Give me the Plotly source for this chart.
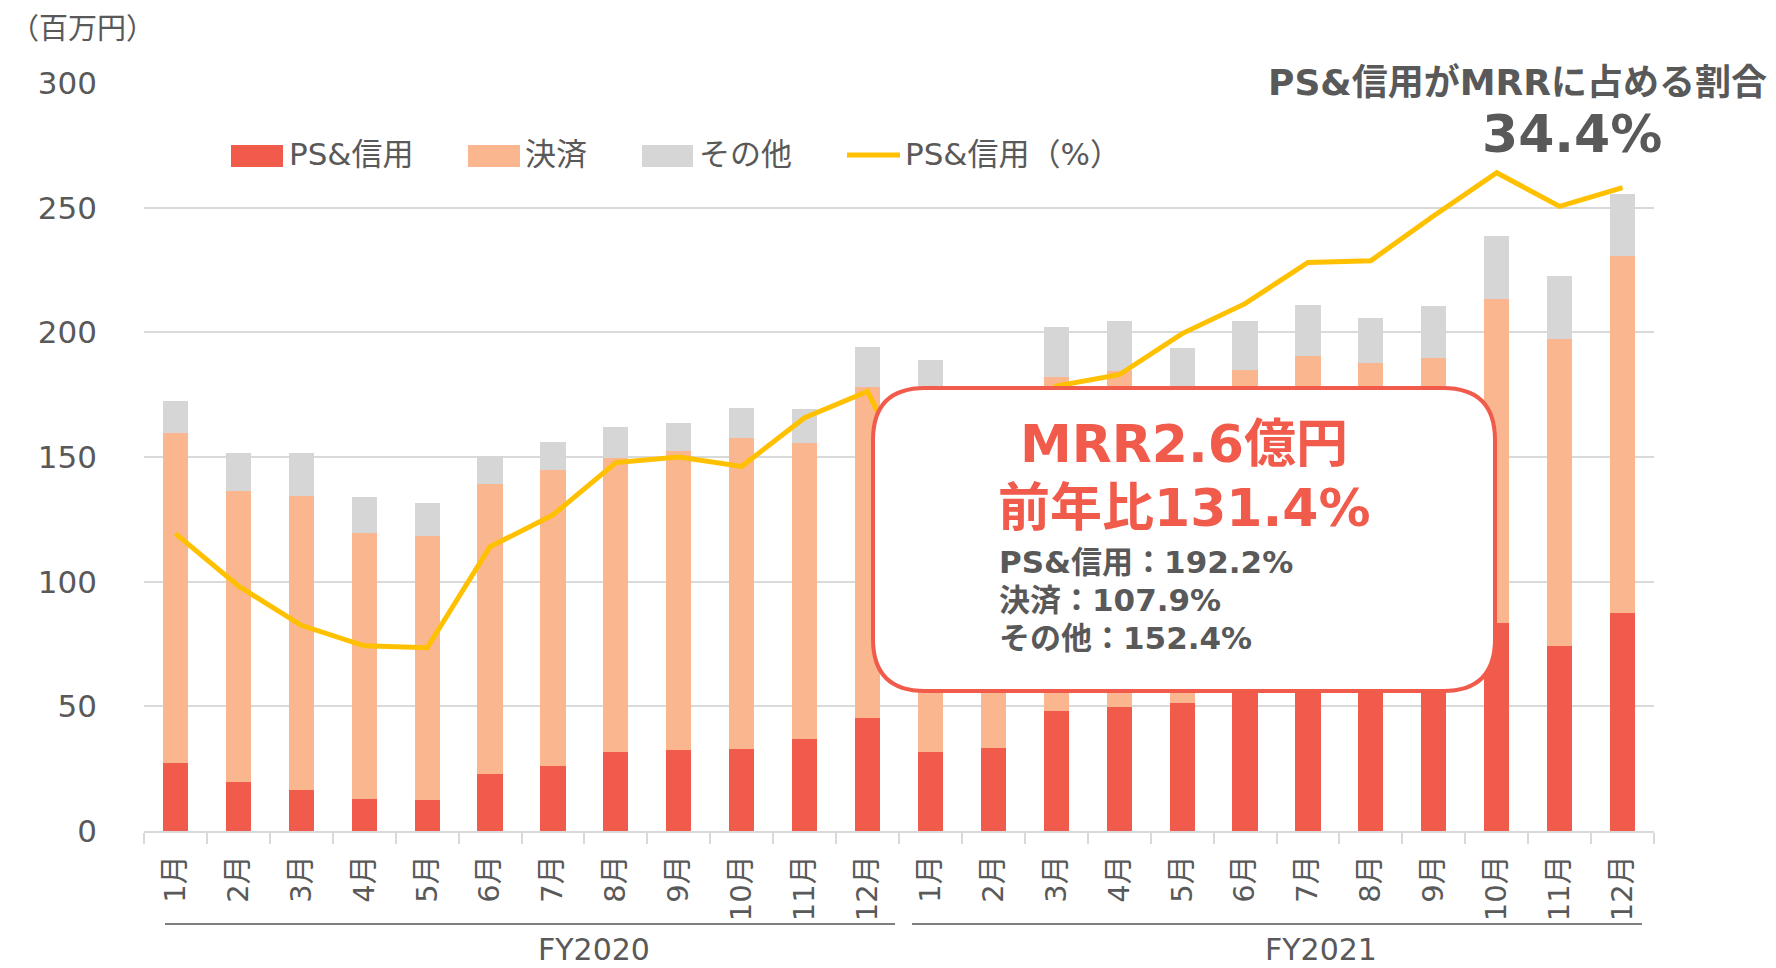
import plotly.graph_objects as go

# ---------------- data ----------------
months = ["1月", "2月", "3月", "4月", "5月", "6月", "7月", "8月", "9月", "10月", "11月", "12月"]
years = ["FY2020", "FY2021"]

ps_fy2020 = [27.1, 19.8, 16.6, 13.0, 12.6, 22.7, 26.1, 31.7, 32.5, 32.9, 37.0, 45.3]
kessai_fy2020 = [132.6, 116.6, 117.9, 106.6, 105.8, 116.4, 118.6, 118.0, 119.9, 124.7, 118.6, 132.7]
other_fy2020 = [12.7, 15.3, 17.3, 14.3, 13.1, 11.3, 11.3, 12.3, 11.2, 11.9, 13.6, 16.2]
ratio_fy2020 = [15.9, 13.1, 11.0, 9.9, 9.8, 15.2, 16.9, 19.7, 20.0, 19.5, 22.1, 23.5]

ps_fy2021 = [31.8, 33.4, 48.2, 49.8, 51.4, 57.6, 64.0, 62.6, 68.9, 83.5, 74.2, 87.5]
kessai_fy2021 = [142.2, 126.6, 134.0, 134.8, 124.6, 127.2, 126.6, 125.2, 120.9, 129.8, 123.1, 143.0]
other_fy2021 = [15.1, 16.0, 20.0, 19.9, 17.7, 19.7, 20.3, 18.1, 20.8, 25.4, 25.1, 24.9]
ratio_fy2021 = [16.8, 19.0, 23.8, 24.4, 26.6, 28.2, 30.4, 30.5, 32.9, 35.2, 33.4, 34.4]

series_names = ["PS&信用", "決済", "その他", "PS&信用（%）"]
y_ticks = [0, 50, 100, 150, 200, 250, 300]
unit_label = "（百万円）"
share_title = "PS&信用がMRRに占める割合"
share_value = "34.4%"
box_lines_big = ["MRR2.6億円", "前年比131.4%"]
box_lines_small = ["PS&信用：192.2%", "決済：107.9%", "その他：152.4%"]

categories = [f"{y} {m}" for y in years for m in months]
tick_text = months + months
ps = ps_fy2020 + ps_fy2021
kessai = kessai_fy2020 + kessai_fy2021
other = other_fy2020 + other_fy2021
ratio = ratio_fy2020 + ratio_fy2021

# ---------------- styles ----------------
C_PS = "#F15B4C"
C_KS = "#FAB68F"
C_OT = "#D6D6D6"
C_LINE = "#FFC000"
C_TEXT = "#595959"
C_GRID = "#D9D9D9"
FONT = "DejaVu Sans, Noto Sans CJK JP, sans-serif"

OFF = 8  # page body margin
W, H = 1776 - OFF, 968 - OFF
L, R, T, B = 144, 1654, 83, 831  # plot area in page pixels


def X(px):
    return (px - L) / (R - L)


def Y(py):
    return (B - py) / (B - T)


fig = go.Figure()
fig.add_trace(go.Bar(x=categories, y=ps, name=series_names[0], marker=dict(color=C_PS, line=dict(width=0))))
fig.add_trace(go.Bar(x=categories, y=kessai, name=series_names[1], marker=dict(color=C_KS, line=dict(width=0))))
fig.add_trace(go.Bar(x=categories, y=other, name=series_names[2], marker=dict(color=C_OT, line=dict(width=0))))
fig.add_trace(go.Scatter(x=categories, y=ratio, name=series_names[3], mode="lines",
                         line=dict(color=C_LINE, width=5), yaxis="y2"))

shapes = []
annotations = []

# manual legend
legend_items = [
    ("bar", C_PS, 231, 283, 287, series_names[0]),
    ("bar", C_KS, 468, 520, 523, series_names[1]),
    ("bar", C_OT, 642, 693, 697, series_names[2]),
    ("line", C_LINE, 847, 900, 903, series_names[3]),
]
for kind, col, x0, x1, tx, label in legend_items:
    if kind == "bar":
        shapes.append(dict(type="rect", xref="paper", yref="paper", x0=X(x0), x1=X(x1), y0=Y(167), y1=Y(145),
                           fillcolor=col, line=dict(width=0), layer="above"))
    else:
        shapes.append(dict(type="line", xref="paper", yref="paper", x0=X(x0), x1=X(x1), y0=Y(155), y1=Y(155),
                           line=dict(color=col, width=5), layer="above"))
    annotations.append(dict(text=label, xref="paper", yref="paper", x=X(tx), y=Y(154), xanchor="left",
                            yanchor="middle", showarrow=False, font=dict(family=FONT, size=31, color=C_TEXT)))

# callout box (rounded rectangle)
bx0, bx1, byt, byb = X(873), X(1495), Y(388), Y(691)
rx, ry = 52 / (R - L), 52 / (B - T)
path = (f"M {bx0+rx},{byt} L {bx1-rx},{byt} Q {bx1},{byt} {bx1},{byt-ry} "
        f"L {bx1},{byb+ry} Q {bx1},{byb} {bx1-rx},{byb} L {bx0+rx},{byb} "
        f"Q {bx0},{byb} {bx0},{byb+ry} L {bx0},{byt-ry} Q {bx0},{byt} {bx0+rx},{byt} Z")
shapes.append(dict(type="path", xref="paper", yref="paper", path=path, fillcolor="white",
                   line=dict(color=C_PS, width=4), layer="above"))

for txt, py in zip(box_lines_big, [444, 508]):
    annotations.append(dict(text=txt, xref="paper", yref="paper", x=X(1184), y=Y(py), xanchor="center",
                            yanchor="middle", showarrow=False,
                            font=dict(family=FONT, size=52, color=C_PS, weight="bold")))
for txt, py in zip(box_lines_small, [562, 600, 638]):
    annotations.append(dict(text=txt, xref="paper", yref="paper", x=X(997), y=Y(py), xanchor="left",
                            yanchor="middle", showarrow=False,
                            font=dict(family=FONT, size=31, color=C_TEXT, weight="bold")))

# top-right share text
annotations.append(dict(text=share_title, xref="paper", yref="paper", x=X(1517), y=Y(82), xanchor="center",
                        yanchor="middle", showarrow=False,
                        font=dict(family=FONT, size=36, color=C_TEXT, weight="bold")))
annotations.append(dict(text=share_value, xref="paper", yref="paper", x=X(1572), y=Y(134), xanchor="center",
                        yanchor="middle", showarrow=False,
                        font=dict(family=FONT, size=52, color=C_TEXT, weight="bold")))

# unit label
annotations.append(dict(text=unit_label, xref="paper", yref="paper", x=X(8), y=Y(29), xanchor="left",
                        yanchor="middle", showarrow=False, font=dict(family=FONT, size=29, color=C_TEXT)))

# year group labels and lines
for (gx0, gx1, cx), yr in zip([(165, 895, 594), (912, 1642, 1321)], years):
    shapes.append(dict(type="line", xref="paper", yref="paper", x0=X(gx0), x1=X(gx1), y0=Y(924), y1=Y(924),
                       line=dict(color="#7F7F7F", width=2)))
    annotations.append(dict(text=yr, xref="paper", yref="paper", x=X(cx), y=Y(949), xanchor="center",
                            yanchor="middle", showarrow=False, font=dict(family=FONT, size=30, color=C_TEXT)))

fig.update_layout(
    width=W, height=H, autosize=False,
    margin=dict(l=L - OFF, r=W - (R - OFF), t=T - OFF, b=H - (B - OFF), pad=0),
    paper_bgcolor="white", plot_bgcolor="white",
    barmode="stack", bargap=0.6,
    showlegend=False,
    font=dict(family=FONT, color=C_TEXT),
    xaxis=dict(type="category", tickvals=categories, ticktext=tick_text, tickangle=-90,
               tickfont=dict(family=FONT, size=29, color=C_TEXT),
               ticks="outside", tickson="boundaries", ticklen=11, tickcolor=C_GRID, tickwidth=1.5,
               showline=True, linecolor=C_GRID, linewidth=1.5, showgrid=False,
               ticklabelstandoff=11),
    yaxis=dict(range=[0, 300], tickvals=y_ticks, showgrid=True, gridcolor=C_GRID, gridwidth=1.5,
               zeroline=False, showline=False, ticks="",
               tickfont=dict(family=FONT, size=31, color=C_TEXT), ticklabelstandoff=46),
    yaxis2=dict(range=[0, 40], overlaying="y", visible=False),
    shapes=shapes,
    annotations=annotations,
)

fig.write_html("out.html")
